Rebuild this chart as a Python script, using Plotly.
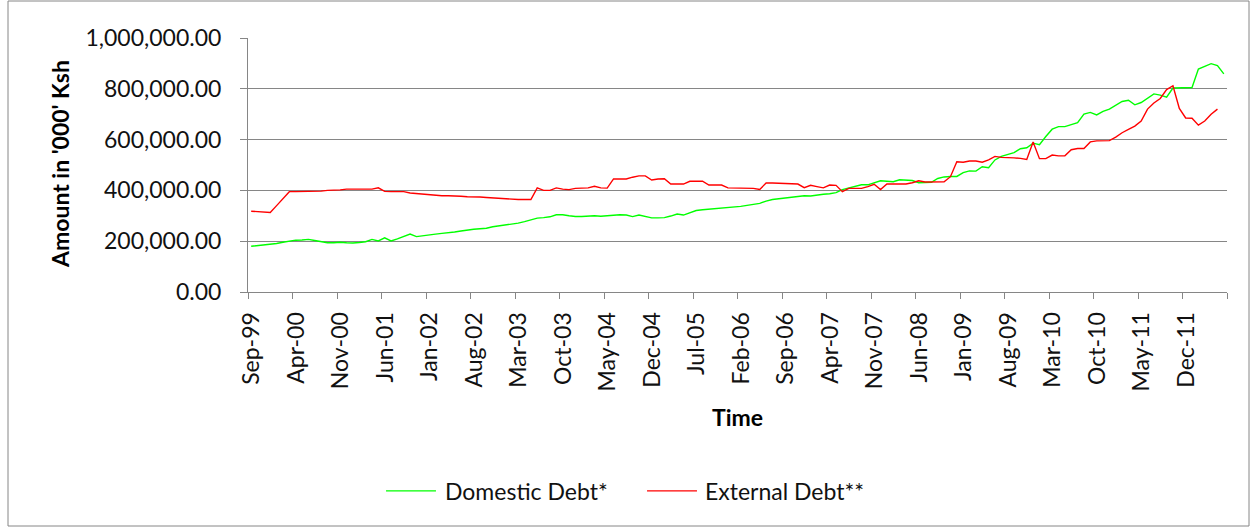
import plotly.graph_objects as go

# Monthly debt stock, Sep-1999 to Jun-2012, in '000 Ksh (thousands)
start_month = "1999-09"
domestic_debt = [
    180, 182, 184, 187, 191, 196, 200, 204, 205, 207,
    203, 198, 194, 194, 196, 194, 193, 195, 198, 207,
    201, 213, 201, 209, 218, 228, 218, 222, 224, 228,
    231, 233, 236, 240, 245, 247, 249, 251, 257, 260,
    264, 267, 271, 277, 285, 291, 293, 296, 304, 304,
    300, 297, 297, 298, 300, 298, 300, 304, 304, 303,
    297, 303, 296, 292, 292, 293, 299, 307, 303, 313,
    321, 324, 326, 330, 332, 333, 333, 337, 341, 346,
    349, 358, 364, 367, 370, 373, 377, 379, 378, 383,
    385, 387, 391, 403, 410, 414, 422, 422, 430, 438,
    436, 434, 442, 440, 439, 430, 431, 432, 447, 453,
    455, 455, 470, 477, 476, 493, 489, 520, 534, 543,
    549, 564, 568, 586, 580, 612, 641, 651, 651, 659,
    667, 700, 707, 697, 711, 720, 735, 750, 755, 737,
    746, 763, 780, 775, 767, 803, 803, 803, 805, 878,
    888, 899, 891, 859,
]
external_debt = [
    318, 316, 315, 313, 340, 368, 395, 395, 395, 395,
    395, 397, 400, 400, 402, 405, 405, 405, 405, 405,
    410, 396, 395, 395, 395, 390, 388, 385, 384, 380,
    379, 379, 379, 377, 375, 375, 374, 372, 370, 368,
    368, 366, 364, 364, 364, 410, 400, 400, 410, 405,
    403, 408, 410, 410, 416, 410, 409, 445, 445, 445,
    452, 457, 457, 441, 445, 446, 425, 425, 425, 436,
    436, 436, 421, 421, 421, 410, 410, 410, 410, 408,
    404, 429, 429, 428, 425, 425, 425, 411, 420, 415,
    410, 421, 420, 395, 408, 408, 408, 415, 424, 403,
    425, 425, 425, 425, 430, 438, 433, 433, 433, 434,
    454, 513, 511, 516, 516, 511, 520, 534, 530, 530,
    528, 526, 522, 591, 525, 525, 539, 536, 536, 560,
    565, 565, 591, 595, 595, 596, 610, 627, 640, 653,
    673, 720, 744, 762, 797, 812, 723, 685, 684, 657,
    673, 700, 720, None,
]
tick_labels = [
    "Sep-99", "Apr-00", "Nov-00", "Jun-01", "Jan-02", "Aug-02", "Mar-03",
    "Oct-03", "May-04", "Dec-04", "Jul-05", "Feb-06", "Sep-06", "Apr-07",
    "Nov-07", "Jun-08", "Jan-09", "Aug-09", "Mar-10", "Oct-10", "May-11",
    "Dec-11",
]
label_step = 7
y_ticks = [0, 200000, 400000, 600000, 800000, 1000000]

n_months = len(domestic_debt)
month_idx = list(range(n_months))
to_ksh = lambda seq: [None if v is None else v * 1000 for v in seq]

FONT = "Lato"
TEXT = "#111111"
GRID = "#868686"
GREEN = "#00ff00"
RED = "#ff0000"

fig = go.Figure()
fig.add_trace(go.Scatter(x=month_idx, y=to_ksh(domestic_debt), mode="lines",
                         name="Domestic Debt*", line=dict(color=GREEN, width=1.4),
                         showlegend=False))
fig.add_trace(go.Scatter(x=month_idx, y=to_ksh(external_debt), mode="lines",
                         name="External Debt**", line=dict(color=RED, width=1.4),
                         showlegend=False))

# category boundaries every 7 months carry the tick marks and labels
tick_pos = [k * label_step - 0.5 for k in range(len(tick_labels))] + [n_months - 0.5]
tick_txt = tick_labels + [""]

fig.update_layout(
    width=1253, height=527,
    margin=dict(l=248, r=26, t=38, b=235, autoexpand=False),
    paper_bgcolor="white", plot_bgcolor="white",
    font=dict(family=FONT, size=23, color=TEXT),
    xaxis=dict(
        range=[-0.5, n_months - 0.5], tickmode="array",
        tickvals=tick_pos, ticktext=tick_txt, tickangle=-90,
        ticks="outside", ticklen=6, tickcolor=GRID, tickwidth=1,
        ticklabelshift=4, ticklabelstandoff=4,
        showgrid=False, zeroline=False,
        showline=True, linecolor=GRID, linewidth=1,
        tickfont=dict(family=FONT, size=23, color=TEXT),
    ),
    yaxis=dict(
        range=[0, 1000000], tickmode="array", tickvals=y_ticks,
        tickformat=",.2f",
        ticks="outside", ticklen=7, tickcolor=GRID, tickwidth=1,
        ticklabelstandoff=14,
        showgrid=True, gridcolor=GRID, gridwidth=1.2,
        zeroline=False, showline=True, linecolor=GRID, linewidth=1,
        tickfont=dict(family=FONT, size=23, color=TEXT),
    ),
)

# axis titles
fig.add_annotation(text="<b>Time</b>", xref="paper", yref="paper",
                   x=0.4995, y=-0.492, xanchor="center", yanchor="middle",
                   showarrow=False, font=dict(family=FONT, size=23, color="#000"))
fig.add_annotation(text="<b>Amount in '000' Ksh</b>", xref="paper", yref="paper",
                   x=-0.192, y=0.504, xanchor="center", yanchor="middle",
                   textangle=-90, showarrow=False,
                   font=dict(family=FONT, size=23, color="#000"))

# legend below the axis
leg_y = -0.783
for x0, x1, tx, color, label in [
    (0.141, 0.192, 0.199, GREEN, "Domestic Debt*"),
    (0.4076, 0.4586, 0.4648, RED, "External Debt**"),
]:
    fig.add_shape(type="line", xref="paper", yref="paper",
                  x0=x0, x1=x1, y0=leg_y, y1=leg_y,
                  line=dict(color=color, width=1.4))
    fig.add_annotation(text=label, xref="paper", yref="paper",
                       x=tx, y=leg_y, xanchor="left", yanchor="middle",
                       showarrow=False, font=dict(family=FONT, size=23, color=TEXT))

# chart area border
fig.add_shape(type="rect", xref="paper", yref="paper",
              x0=(8 - 248) / 979, x1=(1249 - 248) / 979,
              y0=(292 - 526) / 254, y1=(292 - 1) / 254,
              line=dict(color=GRID, width=1), fillcolor="rgba(0,0,0,0)", layer="below")

fig.write_html("out.html")
